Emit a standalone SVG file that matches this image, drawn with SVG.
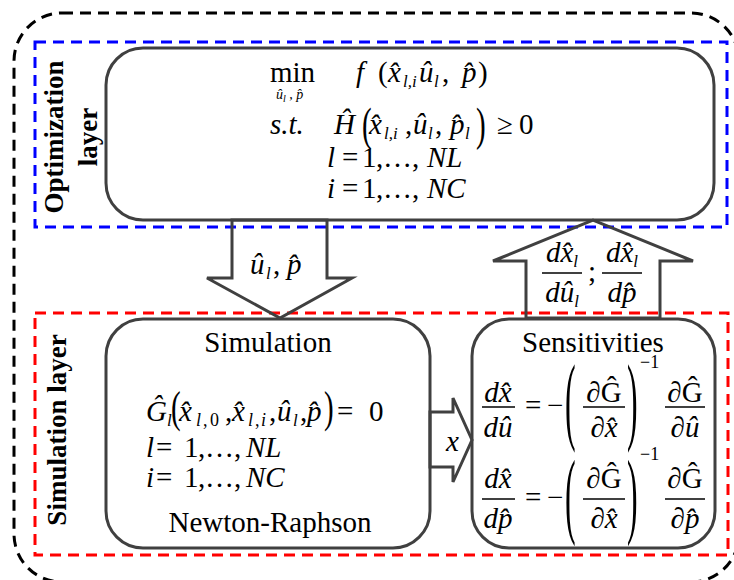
<svg xmlns="http://www.w3.org/2000/svg" width="734" height="580" viewBox="0 0 734 580">
<style>
.t{font-family:"Liberation Serif","Times New Roman",serif;font-size:29px;fill:#000}
.i{font-style:italic}
.r{font-style:normal}
.s{font-size:17px}
.sm{font-size:18px}
.lab{font-family:"Liberation Serif","Times New Roman",serif;font-weight:bold;font-size:27px;fill:#000}
.box{fill:#fff;stroke:#404040;stroke-width:3}
.arr{fill:none;stroke:#404040;stroke-width:3;stroke-linejoin:miter}
.bar{stroke:#000;stroke-width:1.3}
.dash{fill:none;stroke-width:3;stroke-dasharray:11 7}
</style>
<rect width="734" height="580" fill="#fff"/>
<g id="layers">
<rect class="dash" x="14" y="13" width="725" height="569" rx="48" stroke="#000"/>
<rect class="dash" x="35" y="42" width="692" height="185" stroke="#0000ff"/>
<rect class="dash" x="35" y="313" width="693" height="242" stroke="#ff0000"/>
<text class="lab" transform="translate(63,137) rotate(-90)" text-anchor="middle">Optimization</text>
<text class="lab" transform="translate(97,137) rotate(-90)" text-anchor="middle">layer</text>
<text class="lab" transform="translate(66,430) rotate(-90)" text-anchor="middle">Simulation layer</text>
</g>
<g id="optimization">
<rect class="box" x="106" y="48" width="608" height="172" rx="37"/>
<text class="t" x="270" y="82">min</text>
<text class="t i" style="font-size:14px" x="276" y="99">û<tspan style="font-size:10px" dy="3">l</tspan><tspan dy="-3"> , p̂</tspan></text>
<text class="t"><tspan class="i" x="356" y="82">f</tspan><tspan x="378" y="82">(</tspan><tspan class="i" x="388" y="82">x̂</tspan><tspan class="i s" x="403" y="87">l,i</tspan><tspan class="i" x="419" y="82">û</tspan><tspan class="i s" x="434" y="87">l</tspan><tspan x="442" y="82">,</tspan><tspan class="i" x="462" y="82">p̂</tspan><tspan x="478" y="82">)</tspan></text>
<text class="t"><tspan class="i" x="270" y="134">s.t.</tspan><tspan class="i" x="334" y="134">Ĥ</tspan><tspan class="i" x="369" y="134">x̂</tspan><tspan class="i s" x="384" y="139">l,i</tspan><tspan x="405" y="134">,</tspan><tspan class="i" x="413" y="134">û</tspan><tspan class="i s" x="428" y="139">l</tspan><tspan x="435" y="134">,</tspan><tspan class="i" x="450" y="134">p̂</tspan><tspan class="i s" x="465" y="139">l</tspan><tspan x="497" y="134">≥</tspan><tspan x="519" y="134">0</tspan></text>
<text class="t" transform="translate(362,140) scale(1,1.6)">(</text>
<text class="t" transform="translate(476,140) scale(1,1.6)">)</text>
<text class="t"><tspan class="i" x="327" y="167">l</tspan><tspan x="342" y="167">=</tspan><tspan x="362" y="167">1</tspan><tspan x="376" y="167">,</tspan><tspan x="383" y="167">…</tspan><tspan x="412" y="167">,</tspan><tspan class="i" x="427" y="167">NL</tspan></text>
<text class="t"><tspan class="i" x="327" y="198">i</tspan><tspan x="342" y="198">=</tspan><tspan x="362" y="198">1</tspan><tspan x="376" y="198">,</tspan><tspan x="383" y="198">…</tspan><tspan x="412" y="198">,</tspan><tspan class="i" x="427" y="198">NC</tspan></text>
</g>
<g id="simulation">
<rect class="box" x="106" y="319" width="324" height="229" rx="37"/>
<text class="t" x="268" y="352" text-anchor="middle">Simulation</text>
<text class="t"><tspan class="i" x="146" y="421">Ĝ</tspan><tspan class="i s" x="167" y="426">l</tspan><tspan class="i" x="179" y="421">x̂</tspan><tspan class="i sm" x="196" y="426">l</tspan><tspan class="sm" x="203" y="426">,</tspan><tspan class="sm" x="210" y="426">0</tspan><tspan x="225" y="421">,</tspan><tspan class="i" x="232" y="421">x̂</tspan><tspan class="i sm" x="248" y="426">l</tspan><tspan class="sm" x="255" y="426">,</tspan><tspan class="i sm" x="261" y="426">i</tspan><tspan x="269" y="421">,</tspan><tspan class="i" x="277" y="421">û</tspan><tspan class="i s" x="293" y="426">l</tspan><tspan x="300" y="421">,</tspan><tspan class="i" x="307" y="421">p̂</tspan><tspan x="337" y="421">=</tspan><tspan x="369" y="421">0</tspan></text>
<text class="t" transform="translate(171,422) scale(1,1.5)">(</text>
<text class="t" transform="translate(324,422) scale(1,1.5)">)</text>
<text class="t"><tspan class="i" x="146" y="457">l</tspan><tspan x="156" y="457">=</tspan><tspan x="184" y="457">1</tspan><tspan x="198" y="457">,</tspan><tspan x="205" y="457">…</tspan><tspan x="234" y="457">,</tspan><tspan class="i" x="246" y="457">NL</tspan></text>
<text class="t"><tspan class="i" x="146" y="487">i</tspan><tspan x="156" y="487">=</tspan><tspan x="184" y="487">1</tspan><tspan x="198" y="487">,</tspan><tspan x="205" y="487">…</tspan><tspan x="234" y="487">,</tspan><tspan class="i" x="246" y="487">NC</tspan></text>
<text class="t" x="270" y="532" text-anchor="middle">Newton-Raphson</text>
</g>
<g id="sensitivities">
<rect class="box" x="472" y="319" width="243" height="229" rx="37"/>
<text class="t" x="593" y="352" text-anchor="middle">Sensitivities</text>
<text class="t i" x="498" y="402" text-anchor="middle">dx̂</text>
<line class="bar" x1="482" y1="407" x2="515" y2="407"/>
<text class="t i" x="498" y="437" text-anchor="middle">dû</text>
<text class="t" x="525" y="415">=</text>
<text class="t" x="547" y="415">−</text>
<text class="t" transform="translate(565,432) scale(1.1,3.37)">(</text>
<text class="t" x="604" y="402" text-anchor="middle"><tspan class="i">∂</tspan>Ĝ</text>
<line class="bar" x1="583" y1="407" x2="625" y2="407"/>
<text class="t i" x="604" y="437" text-anchor="middle">∂x̂</text>
<text class="t" transform="translate(627,432) scale(1.1,3.37)">)</text>
<text class="t" style="font-size:18px" x="640" y="368">−1</text>
<text class="t" x="685" y="402" text-anchor="middle"><tspan class="i">∂</tspan>Ĝ</text>
<line class="bar" x1="665" y1="407" x2="705" y2="407"/>
<text class="t i" x="685" y="437" text-anchor="middle">∂û</text>
<text class="t i" x="498" y="488" text-anchor="middle">dx̂</text>
<line class="bar" x1="482" y1="499" x2="515" y2="499"/>
<text class="t i" x="498" y="528" text-anchor="middle">dp̂</text>
<text class="t" x="525" y="507">=</text>
<text class="t" x="547" y="507">−</text>
<text class="t" transform="translate(565,526) scale(1.1,3.3)">(</text>
<text class="t" x="604" y="488" text-anchor="middle"><tspan class="i">∂</tspan>Ĝ</text>
<line class="bar" x1="583" y1="499" x2="625" y2="499"/>
<text class="t i" x="604" y="528" text-anchor="middle">∂x̂</text>
<text class="t" transform="translate(627,526) scale(1.1,3.3)">)</text>
<text class="t" style="font-size:18px" x="640" y="460">−1</text>
<text class="t" x="685" y="488" text-anchor="middle"><tspan class="i">∂</tspan>Ĝ</text>
<line class="bar" x1="665" y1="499" x2="705" y2="499"/>
<text class="t i" x="685" y="528" text-anchor="middle">∂p̂</text>
</g>
<g id="connectors">
<polygon class="arr" points="232,220 232,278 207,278 280,318 352,278 327,278 327,220"/>
<text class="t i"><tspan x="250" y="274">û</tspan><tspan class="s" x="266" y="279">l</tspan><tspan class="r" x="273" y="274">,</tspan><tspan x="287" y="274">p̂</tspan></text>
<polygon class="arr" points="526,318 526,261 493,261 593,220 693,261 660,261 660,318"/>
<text class="t i" x="562" y="262" text-anchor="middle">dx̂<tspan class="s" dy="5">l</tspan></text>
<line class="bar" x1="542" y1="273" x2="582" y2="273"/>
<text class="t i" x="562" y="302" text-anchor="middle">dû<tspan class="s" dy="5">l</tspan></text>
<text class="t" x="588" y="281">;</text>
<text class="t i" x="622" y="262" text-anchor="middle">dx̂<tspan class="s" dy="5">l</tspan></text>
<line class="bar" x1="602" y1="273" x2="642" y2="273"/>
<text class="t i" x="622" y="302" text-anchor="middle">dp̂</text>
<polygon class="arr" points="430,412 453,412 453,398 472,440 453,482 453,467 430,467"/>
<text class="t i" x="446" y="451">x</text>
</g>
</svg>
